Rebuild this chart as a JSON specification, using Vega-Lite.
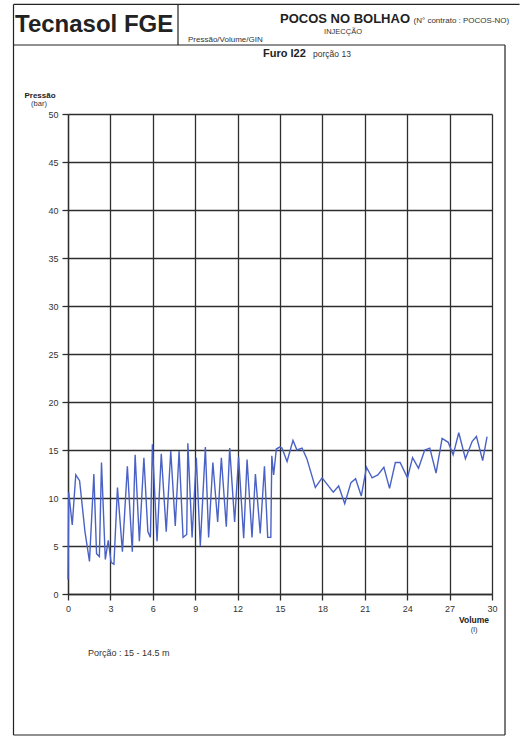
{
  "$schema": "https://vega.github.io/schema/vega-lite/v6.json",
  "autosize": "none",
  "width": 424,
  "height": 480,
  "padding": {"left": 68, "top": 114, "right": 28, "bottom": 146},
  "background": "white",
  "config": {
    "view": {"stroke": null},
    "axis": {"labelFont": "Liberation Sans", "labelFontSize": 9, "labelColor": "#333", "gridColor": "#2e2e2e", "gridWidth": 1.3, "tickColor": "#2e2e2e", "tickWidth": 1.3, "domainColor": "#2e2e2e", "domainWidth": 1.3, "tickSize": 6, "labelOverlap": false, "labelFlush": false}
  },
  "layer": [
    {
      "data": {"values": [
        {"v":0,"p":1.5},{"v":0.05,"p":10.6},{"v":0.3,"p":7.2},{"v":0.55,"p":12.4},{"v":0.82,"p":11.8},{"v":1.2,"p":6.5},{"v":1.52,"p":3.4},{"v":1.83,"p":12.5},{"v":2.02,"p":4.2},{"v":2.22,"p":3.9},{"v":2.37,"p":13.7},{"v":2.64,"p":3.6},{"v":2.85,"p":5.6},{"v":3.05,"p":3.3},{"v":3.25,"p":3.1},{"v":3.5,"p":11.1},{"v":3.85,"p":4.4},{"v":4.2,"p":13.3},{"v":4.55,"p":4.4},{"v":4.75,"p":14.5},{"v":5.05,"p":5.5},{"v":5.37,"p":14.2},{"v":5.65,"p":6.5},{"v":5.83,"p":5.9},{"v":5.97,"p":15.6},{"v":6.3,"p":5.5},{"v":6.6,"p":14.6},{"v":6.95,"p":6.5},{"v":7.27,"p":14.9},{"v":7.59,"p":7.1},{"v":7.86,"p":14.9},{"v":8.14,"p":5.9},{"v":8.4,"p":6.2},{"v":8.48,"p":15.7},{"v":8.78,"p":5.9},{"v":9.08,"p":14.2},{"v":9.36,"p":5.0},{"v":9.72,"p":15.3},{"v":9.95,"p":5.9},{"v":10.25,"p":13.7},{"v":10.59,"p":7.5},{"v":10.85,"p":14.2},{"v":11.2,"p":7.0},{"v":11.44,"p":15.2},{"v":11.79,"p":7.5},{"v":12.07,"p":14.3},{"v":12.43,"p":5.8},{"v":12.67,"p":14.0},{"v":13.02,"p":5.9},{"v":13.26,"p":12.5},{"v":13.6,"p":6.3},{"v":13.9,"p":13.3},{"v":14.13,"p":5.9},{"v":14.35,"p":5.9},{"v":14.42,"p":14.4},{"v":14.55,"p":12.4},{"v":14.74,"p":15.1},{"v":14.98,"p":15.3},{"v":15.14,"p":15.2},{"v":15.5,"p":13.8},{"v":15.92,"p":16.0},{"v":16.2,"p":15.0},{"v":16.56,"p":15.2},{"v":16.9,"p":14.1},{"v":17.5,"p":11.1},{"v":17.98,"p":12.1},{"v":18.3,"p":11.5},{"v":18.77,"p":10.6},{"v":19.15,"p":11.25},{"v":19.58,"p":9.4},{"v":20.02,"p":11.6},{"v":20.35,"p":12.0},{"v":20.75,"p":10.2},{"v":21.12,"p":13.2},{"v":21.52,"p":12.1},{"v":21.92,"p":12.4},{"v":22.35,"p":13.2},{"v":22.75,"p":11.0},{"v":23.16,"p":13.7},{"v":23.5,"p":13.7},{"v":24.02,"p":12.1},{"v":24.38,"p":14.2},{"v":24.8,"p":13.1},{"v":25.24,"p":15.0},{"v":25.6,"p":15.2},{"v":26.04,"p":12.6},{"v":26.47,"p":16.2},{"v":26.9,"p":15.8},{"v":27.25,"p":14.5},{"v":27.65,"p":16.8},{"v":28.12,"p":14.1},{"v":28.6,"p":15.9},{"v":28.9,"p":16.4},{"v":29.34,"p":13.9},{"v":29.65,"p":16.4}
      ]},
      "mark": {"type": "line", "color": "#4a62c6", "strokeWidth": 1.4},
      "encoding": {
        "x": {"field": "v", "type": "quantitative", "scale": {"domain": [0, 30], "nice": false, "zero": false},
              "axis": {"title": null, "values": [0,1.5,3,4.5,6,7.5,9,10.5,12,13.5,15,16.5,18,19.5,21,22.5,24,25.5,27,28.5,30], "labelExpr": "datum.value % 3 === 0 ? datum.label : ''", "labelPadding": 4}},
        "y": {"field": "p", "type": "quantitative", "scale": {"domain": [0, 50], "nice": false, "zero": false},
              "axis": {"title": null, "values": [0,2.5,5,7.5,10,12.5,15,17.5,20,22.5,25,27.5,30,32.5,35,37.5,40,42.5,45,47.5,50], "labelExpr": "datum.value % 5 === 0 ? datum.label : ''", "labelPadding": 4}}
      }
    },
    {"data": {"values": [{}]}, "mark": {"type": "rule", "color": "#222", "strokeWidth": 1.2},
     "encoding": {"x": {"datum": -3.856}, "y": {"datum": 61.41}, "y2": {"datum": -14.69}}},
    {"data": {"values": [{}]}, "mark": {"type": "rule", "color": "#222", "strokeWidth": 1.2},
     "encoding": {"x": {"datum": 30.92}, "y": {"datum": 57.19}, "y2": {"datum": -14.69}}},
    {"data": {"values": [{}]}, "mark": {"type": "rule", "color": "#222", "strokeWidth": 1.2},
     "encoding": {"x": {"datum": -3.856}, "x2": {"datum": 30.92}, "y": {"datum": -14.69}}},
    {"data": {"values": [{}]}, "mark": {"type": "rule", "color": "#222", "strokeWidth": 1.2},
     "encoding": {"x": {"datum": -3.856}, "x2": {"datum": 31.95}, "y": {"datum": 61.41}}},
    {"data": {"values": [{}]}, "mark": {"type": "rule", "color": "#222", "strokeWidth": 1.2},
     "encoding": {"x": {"datum": -3.856}, "x2": {"datum": 30.92}, "y": {"datum": 57.19}}},
    {"data": {"values": [{}]}, "mark": {"type": "rule", "color": "#222", "strokeWidth": 1.2},
     "encoding": {"x": {"datum": 7.783}, "y": {"datum": 61.41}, "y2": {"datum": 57.19}}},
    {"data": {"values": [{}]}, "mark": {"type": "text", "text": "Tecnasol FGE", "font": "Liberation Sans", "fontSize": 24, "fontWeight": "bold", "align": "left", "baseline": "alphabetic", "fill": "#222"},
     "encoding": {"x": {"datum": -3.75}, "y": {"datum": 58.52}}},
    {"data": {"values": [{}]}, "mark": {"type": "text", "text": "POCOS NO BOLHAO", "font": "Liberation Sans", "fontSize": 13, "fontWeight": "bold", "align": "left", "baseline": "alphabetic", "fill": "#222"},
     "encoding": {"x": {"datum": 15.0}, "y": {"datum": 59.5}}},
    {"data": {"values": [{}]}, "mark": {"type": "text", "text": "(N° contrato : POCOS-NO)", "font": "Liberation Sans", "fontSize": 8, "align": "left", "baseline": "alphabetic", "fill": "#333"},
     "encoding": {"x": {"datum": 24.45}, "y": {"datum": 59.5}}},
    {"data": {"values": [{}]}, "mark": {"type": "text", "text": "INJECÇÃO", "font": "Liberation Sans", "fontSize": 7.5, "align": "center", "baseline": "alphabetic", "fill": "#333"},
     "encoding": {"x": {"datum": 19.46}, "y": {"datum": 58.35}}},
    {"data": {"values": [{}]}, "mark": {"type": "text", "text": "Pressão/Volume/GIN", "font": "Liberation Sans", "fontSize": 8, "align": "left", "baseline": "alphabetic", "fill": "#333"},
     "encoding": {"x": {"datum": 8.49}, "y": {"datum": 57.55}}},
    {"data": {"values": [{}]}, "mark": {"type": "text", "text": "Furo I22", "font": "Liberation Sans", "fontSize": 11, "fontWeight": "bold", "align": "left", "baseline": "alphabetic", "fill": "#222"},
     "encoding": {"x": {"datum": 13.8}, "y": {"datum": 55.89}}},
    {"data": {"values": [{}]}, "mark": {"type": "text", "text": "porção 13", "font": "Liberation Sans", "fontSize": 8.5, "align": "left", "baseline": "alphabetic", "fill": "#333"},
     "encoding": {"x": {"datum": 17.34}, "y": {"datum": 55.89}}},
    {"data": {"values": [{}]}, "mark": {"type": "text", "text": "Pressão", "font": "Liberation Sans", "fontSize": 8, "fontWeight": "bold", "align": "center", "baseline": "alphabetic", "fill": "#222"},
     "encoding": {"x": {"datum": -1.98}, "y": {"datum": 51.67}}},
    {"data": {"values": [{}]}, "mark": {"type": "text", "text": "(bar)", "font": "Liberation Sans", "fontSize": 7.5, "align": "center", "baseline": "alphabetic", "fill": "#333"},
     "encoding": {"x": {"datum": -2.05}, "y": {"datum": 50.83}}},
    {"data": {"values": [{}]}, "mark": {"type": "text", "text": "Volume", "font": "Liberation Sans", "fontSize": 8.5, "fontWeight": "bold", "align": "center", "baseline": "alphabetic", "fill": "#222"},
     "encoding": {"x": {"datum": 28.73}, "y": {"datum": -3.02}}},
    {"data": {"values": [{}]}, "mark": {"type": "text", "text": "(l)", "font": "Liberation Sans", "fontSize": 7.5, "align": "center", "baseline": "alphabetic", "fill": "#333"},
     "encoding": {"x": {"datum": 28.73}, "y": {"datum": -3.96}}},
    {"data": {"values": [{}]}, "mark": {"type": "text", "text": "Porção : 15 - 14.5 m", "font": "Liberation Sans", "fontSize": 9, "align": "left", "baseline": "alphabetic", "fill": "#333"},
     "encoding": {"x": {"datum": 1.415}, "y": {"datum": -6.458}}}
  ]
}
